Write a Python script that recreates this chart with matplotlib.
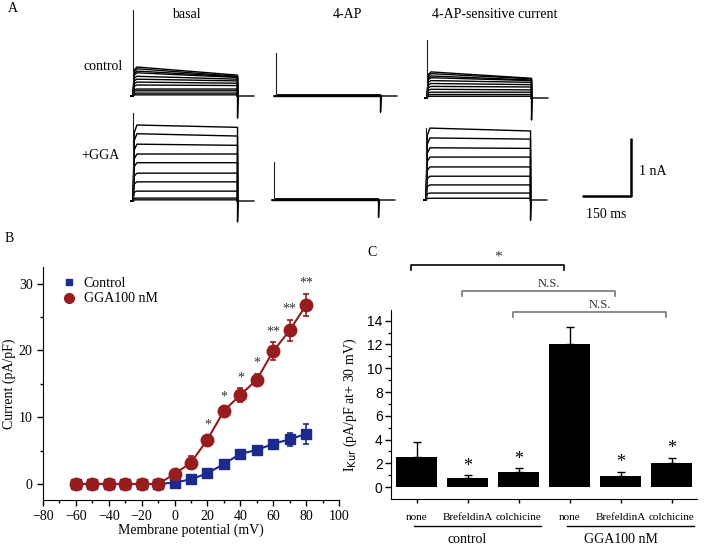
import matplotlib.pyplot as plt
import numpy as np
from matplotlib.lines import Line2D

plt.rcParams['font.family'] = ['Liberation Serif', 'DejaVu Serif']
plt.rcParams['font.size'] = 10

W, H = 709, 545

################################################################################
# Panel A - current traces (amplitudes in nA at pulse start / pulse end)
ctrl_basal_start = [0.50, 0.47, 0.43, 0.40, 0.34, 0.29, 0.24, 0.19, 0.12, 0.09, 0.05, 0.02]
ctrl_basal_end = [0.36, 0.34, 0.33, 0.32, 0.29, 0.26, 0.22, 0.18, 0.12, 0.09, 0.05, 0.02]
ctrl_4ap_start = [0.02, 0.01, 0.0]
ctrl_4ap_end = [0.02, 0.01, 0.0]
ctrl_sens_start = [0.45, 0.42, 0.38, 0.35, 0.30, 0.25, 0.20, 0.15, 0.10, 0.06, 0.03]
ctrl_sens_end = [0.34, 0.33, 0.31, 0.30, 0.27, 0.23, 0.19, 0.14, 0.10, 0.06, 0.03]
gga_basal_start = [1.31, 1.16, 0.98, 0.81, 0.66, 0.48, 0.33, 0.17, 0.05, 0.02]
gga_basal_end = [1.27, 1.12, 0.96, 0.81, 0.66, 0.48, 0.33, 0.17, 0.05, 0.02]
gga_4ap_start = [0.02, 0.01, 0.0]
gga_4ap_end = [0.02, 0.01, 0.0]
gga_sens_start = [1.24, 1.07, 0.90, 0.74, 0.57, 0.41, 0.26, 0.12, 0.03]
gga_sens_end = [1.19, 1.05, 0.89, 0.74, 0.57, 0.41, 0.26, 0.12, 0.03]
# capacitive spike at pulse onset and tail at pulse offset (nA)
spike = [1.48, 0.74, 1.00, 1.52, 0.66, 1.24]
tail = [0.38, 0.28, 0.38, 0.36, 0.30, 0.35]
pulse_ms = 320
after_ms = 50

# Panel B - I-V curve
voltage = [-60, -50, -40, -30, -20, -10, 0, 10, 20, 30, 40, 50, 60, 70, 80]
ctrl_mean = [0, 0, 0, 0, 0, 0, 0.2, 0.7, 1.6, 3.0, 4.5, 5.1, 6.0, 6.7, 7.5]
ctrl_sem = [0.2, 0.2, 0.2, 0.2, 0.2, 0.2, 0.2, 0.6, 0.4, 0.5, 0.5, 0.4, 0.6, 1.0, 1.5]
gga_mean = [0, 0, 0, 0, 0, 0, 1.5, 3.2, 6.65, 10.95, 13.35, 15.6, 19.9, 23.0, 26.8]
gga_sem = [0.2, 0.2, 0.2, 0.2, 0.2, 0.2, 0.5, 1.0, 0.6, 0.5, 1.0, 0.9, 1.3, 1.6, 1.7]
gga_sig = ['', '', '', '', '', '', '', '', '*', '*', '*', '*', '**', '**', '**']

# Panel C - IKur at +30 mV
bar_labels = ['none', 'BrefeldinA', 'colchicine', 'none', 'BrefeldinA', 'colchicine']
bar_mean = [2.5, 0.8, 1.3, 12.0, 0.95, 2.0]
bar_sem = [1.3, 0.2, 0.3, 1.5, 0.35, 0.45]
bar_sig = ['', '*', '*', '', '*', '*']
groups = ['control', 'GGA100 nM']
brackets = [(1, 4, '*'), (2, 5, 'N.S.'), (3, 6, 'N.S.')]

################################################################################
fig = plt.figure(figsize=(W / 100, H / 100), dpi=100)

PX_MS = 49 / 150.0
PX_NA = 58.0


def px_axes(x0, y0, tmin, tmax, imin, imax):
    # axes whose data origin (0, 0) sits at pixel (x0, y0)
    left = x0 + tmin * PX_MS
    width = (tmax - tmin) * PX_MS
    bottom = y0 - imin * PX_NA
    height = (imax - imin) * PX_NA
    ax = fig.add_axes([left / W, (H - bottom) / H, width / W, height / H])
    ax.set_xlim(tmin, tmax)
    ax.set_ylim(imin, imax)
    ax.axis('off')
    return ax


def showTraces(x0, y0, start, end, k):
    ax = px_axes(x0, y0, -10, pulse_ms + after_ms + 5, -0.5, 1.6)
    for a0, a1 in zip(start, end):
        ax.plot([-6, 0, 4, 12, pulse_ms, pulse_ms], [0, 0, a0 * 0.9, a0, a1, 0],
                color='black', lw=1.0)
    ax.plot([0, 0], [0, spike[k]], color='#222222', lw=0.8)
    ax.plot([pulse_ms, pulse_ms, pulse_ms + 2, pulse_ms + after_ms],
            [0, -tail[k], 0, 0], color='black', lw=1.0)
    return ax


showTraces(133, 96, ctrl_basal_start, ctrl_basal_end, 0)
showTraces(276, 96, ctrl_4ap_start, ctrl_4ap_end, 1)
showTraces(427, 98, ctrl_sens_start, ctrl_sens_end, 2)
showTraces(133, 201, gga_basal_start, gga_basal_end, 3)
showTraces(274, 200, gga_4ap_start, gga_4ap_end, 4)
showTraces(426, 200, gga_sens_start, gga_sens_end, 5)

# scale bar
axs = px_axes(582, 196, -5, 200, -0.3, 1.1)
axs.plot([0, 150, 150], [0, 0, 1], color='black', lw=1.8, solid_capstyle='butt')
axs.text(175, 0.42, '1 nA', ha='left', va='center')
axs.text(75, -0.2, '150 ms', ha='center', va='top')

fig.text(13 / W, 1 - 8 / H, 'A', ha='center', va='center')
fig.text(186 / W, 1 - 14 / H, 'basal', ha='center', va='center')
fig.text(347 / W, 1 - 14 / H, '4-AP', ha='center', va='center')
fig.text(495 / W, 1 - 14 / H, '4-AP-sensitive current', ha='center', va='center')
fig.text(103 / W, 1 - 66 / H, 'control', ha='center', va='center')
fig.text(100 / W, 1 - 155 / H, '+GGA', ha='center', va='center')

################################################################################
# Panel B
blue = '#1c2a8e'
red = '#961c1e'
axB = fig.add_axes([43 / W, 45 / H, 296 / W, 233 / H])
axB.plot(voltage, ctrl_mean, color=blue, lw=1.5)
axB.plot(voltage, gga_mean, color=red, lw=1.5)
axB.errorbar(voltage, ctrl_mean, yerr=ctrl_sem, fmt='s', color=blue, ms=7,
             capsize=2.5, elinewidth=1.2, capthick=1.2)
axB.errorbar(voltage, gga_mean, yerr=gga_sem, fmt='o', color=red, ms=9,
             capsize=2.5, elinewidth=1.2, capthick=1.2)
for v, m, s, t in zip(voltage, gga_mean, gga_sem, gga_sig):
    if t:
        axB.text(v, m + s + 0.6, t, ha='center', va='bottom', color='#333333', fontsize=10)
axB.set_xlim(-80, 100)
axB.set_ylim(-2.4, 32.5)
axB.set_xticks(np.arange(-80, 101, 20))
axB.set_xticks(np.arange(-70, 100, 20), minor=True)
axB.set_yticks([0, 10, 20, 30])
axB.set_yticks([5, 15, 25], minor=True)
axB.spines['top'].set_visible(False)
axB.spines['right'].set_visible(False)
axB.tick_params(direction='out', length=4, width=1, labelsize=10)
axB.tick_params(which='minor', direction='out', length=2.5, width=1)
axB.set_xlabel('Membrane potential (mV)', labelpad=0)
axB.set_ylabel('Current (pA/pF)', labelpad=2)
handles = [Line2D([], [], marker='s', ls='none', color=blue, ms=5),
           Line2D([], [], marker='o', ls='none', color=red, ms=7)]
axB.legend(handles, ['Control', 'GGA100 nM'], loc='upper left',
           bbox_to_anchor=(0.03, 1.0), frameon=False, handlelength=1,
           handletextpad=0.6, labelspacing=0.2, borderaxespad=0.3)
fig.text(5 / W, 1 - 238 / H, 'B', ha='left', va='center')

################################################################################
# Panel C
axC = fig.add_axes([391 / W, 46 / H, 306 / W, 189 / H])
pos = np.arange(1, len(bar_mean) + 1)
axC.bar(pos, bar_mean, width=0.82, color='black')
axC.errorbar(pos, bar_mean, yerr=[np.zeros(len(bar_sem)), bar_sem], fmt='none',
             ecolor='black', elinewidth=1, capsize=3, capthick=1)
for p, m, s, t in zip(pos, bar_mean, bar_sem, bar_sig):
    if t:
        axC.text(p, m + s + 0.05, t, ha='center', va='bottom', fontsize=13)
axC.set_xlim(0.5, 6.5)
axC.set_ylim(-1.0, 14.9)
axC.set_xticks(pos)
axC.set_xticklabels(bar_labels, fontsize=8)
axC.set_yticks(np.arange(0, 15, 2))
axC.set_yticks(np.arange(1, 15, 2), minor=True)
for lab in axC.get_yticklabels():
    lab.set_fontfamily('Liberation Sans')
axC.spines['top'].set_visible(False)
axC.spines['right'].set_visible(False)
axC.tick_params(axis='y', direction='out', length=4, width=1, labelsize=10, pad=2)
axC.tick_params(axis='y', which='minor', direction='out', length=2.5, width=1)
axC.tick_params(axis='x', direction='out', length=3, width=1, pad=7)
axC.set_ylabel(r'I$_{\mathrm{Kur}}$ (pA/pF at+ 30 mV)', labelpad=6)
for g, name in enumerate(groups):
    a = pos[3 * g] - 0.05
    b = pos[3 * g + 2] + 0.45
    axC.plot([a, b], [-3.3, -3.3], color='black', lw=1, clip_on=False)
    axC.text((a + b) / 2 - 0.2, -3.9, name, ha='center', va='top', fontsize=10)
for (i, j, t), y in zip(brackets, [18.7, 16.5, 14.75]):
    col = 'black' if t == '*' else '#777777'
    xa, xb = i - 0.1, j - 0.1
    axC.plot([xa, xa, xb, xb], [y - 0.45, y, y, y - 0.45], color=col, lw=1.2, clip_on=False)
    axC.text((xa + xb) / 2 + 0.2, y + 0.1, t, ha='center', va='bottom',
             fontsize=9 if t != '*' else 11, color='#333333', clip_on=False)
fig.text(372 / W, 1 - 252 / H, 'C', ha='center', va='center')

fig.savefig('out.png', dpi=100)
